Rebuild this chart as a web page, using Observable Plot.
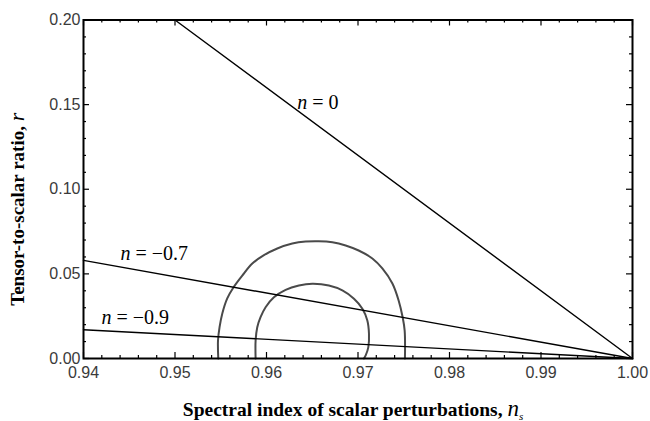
<!DOCTYPE html>
<html>
<head>
<meta charset="utf-8">
<script src="https://cdn.jsdelivr.net/npm/d3@7"></script>
<script src="https://cdn.jsdelivr.net/npm/@observablehq/plot@0.6"></script>
<style>
  html, body { margin: 0; padding: 0; background: white; }
</style>
</head>
<body>
<div id="chart"></div>
<script>
// ---- data ----
const xTicks = [0.94, 0.95, 0.96, 0.97, 0.98, 0.99, 1.00];
const yTicks = [0.00, 0.05, 0.10, 0.15, 0.20];
const xMinor = d3.range(0, 31).map(i => +(0.94 + i * 0.002).toFixed(3));
const yMinor = d3.range(0, 21).map(i => +(i * 0.01).toFixed(2));

// straight lines r(ns) for different n (end points)
const lineN0   = [{ns: 0.95, r: 0.20}, {ns: 1.00, r: 0}];
const lineN07  = [{ns: 0.94, r: 0.058}, {ns: 1.00, r: 0}];
const lineN09  = [{ns: 0.94, r: 0.017}, {ns: 1.00, r: 0}];

// confidence contours (gray)
const outerNs = [0.95473,0.9547,0.95487,0.95517,0.95571,0.9564,0.95735,0.95845,0.95968,0.96118,0.96282,0.96428,0.9657,0.9672,0.96865,0.97007,0.97157,0.97266,0.97376,0.97444,0.97488,0.9751,0.97513];
const outerR  = [0,0.0106,0.0185,0.0266,0.0355,0.0421,0.0490,0.0561,0.0609,0.0650,0.0679,0.0691,0.0693,0.0687,0.0668,0.0638,0.0591,0.0532,0.0443,0.0343,0.0244,0.0165,0];
const innerNs = [0.95881,0.95881,0.95899,0.95935,0.9599,0.96081,0.96209,0.96354,0.96501,0.96682,0.96829,0.96956,0.97048,0.97102,0.9712,0.97113,0.97084,0.97065];
const innerR  = [0,0.0106,0.0185,0.0244,0.0303,0.0362,0.0406,0.0431,0.0441,0.0431,0.0402,0.0353,0.0294,0.0225,0.0146,0.0067,0.0018,0];

const labels = [
  {ns: 0.96337, r: 0.1514, text: "n = 0"},
  {ns: 0.94405, r: 0.0620, text: "n = \u22120.7"},
  {ns: 0.94197, r: 0.0242, text: "n = \u22120.9"}
];

const xTitle = "Spectral index of scalar perturbations, n";
const yTitle = "Tensor-to-scalar ratio, r";

// ---- layout ----
const W = 650, H = 421;
const mL = 83, mR = 18, mT = 19.5, mB = 63;
const xDom = [0.94, 1.00], yDom = [0, 0.20];
const pxPerX = (W - mL - mR) / (xDom[1] - xDom[0]);
const pxPerY = (H - mT - mB) / (yDom[1] - yDom[0]);
const majLen = 6, minLen = 3;

const outer = outerNs.map((ns, i) => ({ns, r: outerR[i]}));
const inner = innerNs.map((ns, i) => ({ns, r: innerR[i]}));

const isMajX = v => xTicks.some(t => Math.abs(t - v) < 1e-9);
const isMajY = v => yTicks.some(t => Math.abs(t - v) < 1e-9);

const tickFont = "Liberation Sans, Arial, sans-serif";
const serif = "Liberation Serif, Times New Roman, serif";

const plot = Plot.plot({
  width: W, height: H,
  marginLeft: mL, marginRight: mR, marginTop: mT, marginBottom: mB,
  x: {domain: xDom},
  y: {domain: yDom},
  style: {background: "white", overflow: "visible"},
  marks: [
    // inward ticks: bottom & top
    Plot.ruleX(xMinor, {x: d => d, y1: yDom[0], y2: d => yDom[0] + (isMajX(d) ? majLen : minLen) / pxPerY, stroke: "black", strokeWidth: 1.2}),
    Plot.ruleX(xMinor, {x: d => d, y1: yDom[1], y2: d => yDom[1] - (isMajX(d) ? majLen : minLen) / pxPerY, stroke: "black", strokeWidth: 1.2}),
    // inward ticks: left & right
    Plot.ruleY(yMinor, {y: d => d, x1: xDom[0], x2: d => xDom[0] + (isMajY(d) ? majLen : minLen) / pxPerX, stroke: "black", strokeWidth: 1.2}),
    Plot.ruleY(yMinor, {y: d => d, x1: xDom[1], x2: d => xDom[1] - (isMajY(d) ? majLen : minLen) / pxPerX, stroke: "black", strokeWidth: 1.2}),
    // contours
    Plot.line(outer, {x: "ns", y: "r", stroke: "#4a4a4a", strokeWidth: 2, curve: "catmull-rom"}),
    Plot.line(inner, {x: "ns", y: "r", stroke: "#4a4a4a", strokeWidth: 2, curve: "catmull-rom"}),
    // straight lines
    Plot.line(lineN0, {x: "ns", y: "r", stroke: "black", strokeWidth: 1.4}),
    Plot.line(lineN07, {x: "ns", y: "r", stroke: "black", strokeWidth: 1.4}),
    Plot.line(lineN09, {x: "ns", y: "r", stroke: "black", strokeWidth: 1.4}),
    // line labels
    Plot.text(labels, {x: "ns", y: "r", text: "text", textAnchor: "start", fontSize: 20, fontFamily: serif, fill: "black"}),
    // frame
    Plot.frame({stroke: "black", strokeWidth: 2}),
    // tick labels
    Plot.axisX({ticks: xTicks, tickSize: 0, tickPadding: 8, tickFormat: d3.format(".2f"), label: null, fontSize: 16, fontFamily: tickFont, fill: "#3a3a3a"}),
    Plot.axisY({ticks: yTicks, tickSize: 0, tickPadding: 3, tickFormat: d3.format(".2f"), label: null, fontSize: 16, fontFamily: tickFont, fill: "#3a3a3a"}),
    // axis titles
    Plot.text([xTitle], {frameAnchor: "bottom", textAnchor: "middle", lineAnchor: "middle", dy: 51, dx: -5, fontSize: 19.5, fontWeight: "bold", fontFamily: serif, fill: "black"}),
    Plot.text([yTitle], {frameAnchor: "left", textAnchor: "middle", lineAnchor: "middle", rotate: -90, dx: -66, dy: 20, fontSize: 19, fontWeight: "bold", fontFamily: serif, fill: "black"})
  ]
});

document.getElementById("chart").appendChild(plot);

// mixed styles: italic variables
const svgNS = "http://www.w3.org/2000/svg";
function mk(txt, attrs) {
  const t = document.createElementNS(svgNS, "tspan");
  t.textContent = txt;
  for (const k in attrs) t.setAttribute(k, attrs[k]);
  return t;
}
d3.select(plot).selectAll("text").each(function () {
  const s = this.textContent;
  if (labels.some(l => l.text === s)) {
    this.textContent = "";
    this.appendChild(mk("n", {"font-style": "italic"}));
    this.appendChild(mk(s.slice(1), {}));
  } else if (s === xTitle) {
    this.textContent = "";
    this.appendChild(mk(xTitle.slice(0, -1), {}));
    this.appendChild(mk("n", {"font-style": "italic", "font-weight": "normal", "font-size": "23"}));
    this.appendChild(mk("s", {"font-style": "italic", "font-weight": "normal", "font-size": "11", "dy": "4"}));
  } else if (s === yTitle) {
    this.textContent = "";
    this.appendChild(mk(yTitle.slice(0, -1), {}));
    this.appendChild(mk("r", {"font-style": "italic", "font-weight": "normal", "font-size": "22"}));
  }
});
</script>
</body>
</html>
